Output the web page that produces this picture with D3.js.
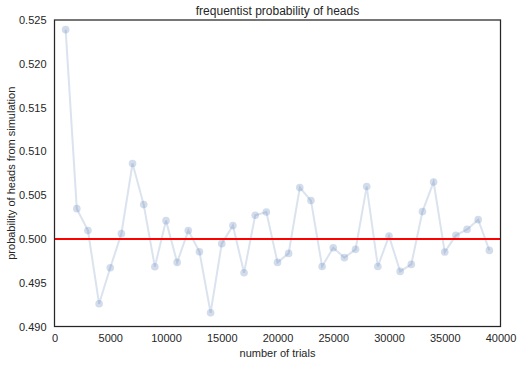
<!DOCTYPE html>
<html><head><meta charset="utf-8">
<script src="https://cdn.jsdelivr.net/npm/d3@7"></script>
<style>body{margin:0;background:#fff}svg{display:block}text{font-family:"Liberation Sans",Arial,sans-serif;fill:#262626}</style>
</head><body><div id="chart"></div>
<script>
const trials = [1000,2000,3000,4000,5000,6000,7000,8000,9000,10000,11000,12000,13000,14000,15000,16000,17000,18000,19000,20000,21000,22000,23000,24000,25000,26000,27000,28000,29000,30000,31000,32000,33000,34000,35000,36000,37000,38000,39000];
const probHeads = [0.5239,0.50346,0.50095,0.49260,0.49671,0.50060,0.50861,0.50392,0.49683,0.50209,0.49732,0.50095,0.49854,0.49157,0.49946,0.50152,0.49614,0.50270,0.50307,0.49732,0.49835,0.50586,0.50438,0.49686,0.49900,0.49786,0.49881,0.50598,0.49686,0.50033,0.49629,0.49709,0.50312,0.50650,0.49850,0.50041,0.50109,0.50220,0.49869];
const xTicks = [0,5000,10000,15000,20000,25000,30000,35000,40000];
const yTicks = [0.490,0.495,0.500,0.505,0.510,0.515,0.520,0.525];
const refValue = 0.5;
const title = "frequentist probability of heads";
const xLabel = "number of trials";
const yLabel = "probability of heads from simulation";

const W = 522, H = 365;
const m = {left:54.5, top:20, right:21.5, bottom:38.5};
const svg = d3.select("#chart").append("svg").attr("width",W).attr("height",H);
const x = d3.scaleLinear().domain([0,40000]).range([m.left, W-m.right]);
const y = d3.scaleLinear().domain([0.490,0.525]).range([H-m.bottom, m.top]);

const xAxis = d3.axisBottom(x).tickValues(xTicks).tickSize(0).tickPadding(8).tickFormat(d3.format("d"));
const yAxis = d3.axisLeft(y).tickValues(yTicks).tickSize(0).tickPadding(8).tickFormat(d3.format(".3f"));
const gx = svg.append("g").attr("transform",`translate(0,${H-m.bottom})`).call(xAxis);
const gy = svg.append("g").attr("transform",`translate(${m.left},0)`).call(yAxis);
[gx,gy].forEach(g=>{g.select(".domain").remove();g.selectAll("text").style("font-size","11px").attr("fill","#262626");});

const color = "#4c72b0";
const line = d3.line().x((d,i)=>x(trials[i])).y(d=>y(d));
svg.append("path").datum(probHeads).attr("d",line).attr("fill","none")
  .attr("stroke",color).attr("stroke-opacity",0.2).attr("stroke-width",2);
svg.append("g").selectAll("circle").data(probHeads).join("circle")
  .attr("cx",(d,i)=>x(trials[i])).attr("cy",d=>y(d)).attr("r",3.8)
  .attr("fill",color).attr("fill-opacity",0.25);

svg.append("line").attr("x1",x(0)).attr("x2",x(40000)).attr("y1",y(refValue)).attr("y2",y(refValue))
  .attr("stroke","#ff0000").attr("stroke-width",2);

svg.append("rect").attr("x",m.left).attr("y",m.top).attr("width",W-m.left-m.right).attr("height",H-m.top-m.bottom)
  .attr("fill","none").attr("stroke","#262626").attr("stroke-width",1.25);

svg.append("text").attr("x",(m.left+W-m.right)/2).attr("y",m.top-5).attr("text-anchor","middle").style("font-size","12px").text(title);
svg.append("text").attr("x",(m.left+W-m.right)/2).attr("y",H-8).attr("text-anchor","middle").style("font-size","11px").text(xLabel);
svg.append("text").attr("transform",`translate(15,${(m.top+H-m.bottom)/2}) rotate(-90)`).attr("text-anchor","middle").style("font-size","11px").text(yLabel);
</script></body></html>
